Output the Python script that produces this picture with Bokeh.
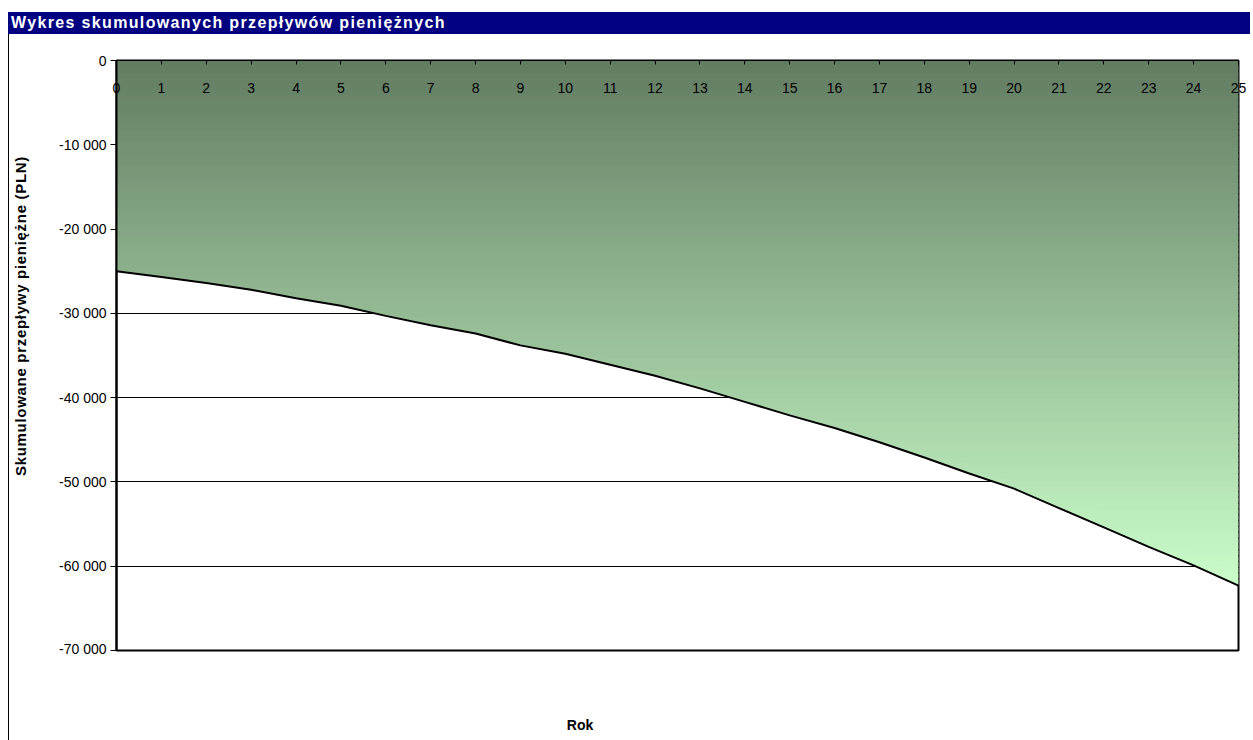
import numpy as np
from bokeh.plotting import figure
from bokeh.models import Range1d, FixedTicker, Div
from bokeh.layouts import column, row
from bokeh.embed import file_html
from bokeh.resources import INLINE

# ---- data ----
years = list(range(26))
cumulative = [-25000, -25700, -26400, -27200, -28200, -29100, -30300, -31400,
              -32400, -33800, -34800, -36100, -37400, -38900, -40500, -42100,
              -43600, -45300, -47100, -49000, -50800, -53100, -55400, -57700,
              -59900, -62300]
y_ticks = [0, -10000, -20000, -30000, -40000, -50000, -60000, -70000]
y_tick_labels = ["0", "-10 000", "-20 000", "-30 000", "-40 000", "-50 000",
                 "-60 000", "-70 000"]
title_text = "Wykres skumulowanych przepływów pieniężnych"
x_label = "Rok"
y_label = "Skumulowane przepływy pieniężne (PLN)"

FONT = "Liberation Sans"
CSS_FONT = "'Liberation Sans', Arial, sans-serif"

title_div = Div(
    text=('<div style="background:#000080;color:#ffffff;font-family:' + CSS_FONT + ';'
          'font-weight:bold;font-size:16px;letter-spacing:1.35px;line-height:22px;height:22px;'
          'padding-left:3px;white-space:nowrap;overflow:hidden;width:1242px;">'
          + title_text + '</div>'),
    width=1245, height=22, margin=(12, 0, 0, 8),
)

ylab_div = Div(
    text=('<div style="position:relative;width:30px;height:706px;border-left:1px solid #000;'
          'box-sizing:border-box;">'
          '<div style="position:absolute;left:12px;top:282px;transform:translate(-50%,-50%) rotate(-90deg);'
          'white-space:nowrap;font-family:' + CSS_FONT + ';font-weight:bold;font-size:15px;'
          'letter-spacing:0.7px;color:#000;">'
          + y_label + '</div></div>'),
    width=30, height=706, margin=(0, 0, 0, 0),
)

rok_div = Div(
    text=('<div style="position:relative;width:1215px;height:84px;">'
          '<div style="position:absolute;left:542px;top:69px;transform:translate(-50%,-50%);'
          'white-space:nowrap;font-family:' + CSS_FONT + ';font-weight:bold;font-size:14px;color:#000;">'
          + x_label + '</div></div>'),
    width=1215, height=84, margin=(0, 0, 0, 0),
)

p = figure(width=1215, height=622,
           x_range=Range1d(0, 25), y_range=Range1d(-70000, 0),
           x_axis_location="above",
           output_backend="svg", toolbar_location=None,
           min_border_left=78, min_border_right=15,
           min_border_top=26, min_border_bottom=6,
           background_fill_color="white", border_fill_color="white",
           margin=(0, 0, 0, 0))

# gradient filled area between 0 and the curve (stacked colour bands)
cum = np.array(cumulative, dtype=float)
ymin = cum.min()
n_bands = 90
edges = np.linspace(0, ymin, n_bands + 1)
c_top = np.array([98, 124, 98])
c_bot = np.array([202, 253, 202])
ov = 500.0
for k in range(n_bands):
    top = edges[k]
    bot = edges[k + 1]
    t = (k + 0.5) / n_bands
    c = (c_top + (c_bot - c_top) * t).round().astype(int)
    col = "#%02x%02x%02x" % tuple(c)
    lower = np.maximum(cum, bot - ov)
    upper = np.maximum(cum, top)
    p.varea(x=years, y1=lower, y2=upper, fill_color=col, fill_alpha=1.0)

p.line(years, cumulative, line_color="black", line_width=2)

# x axis along the zero line, labels pushed inside the frame
p.xaxis.ticker = FixedTicker(ticks=years)
p.xaxis.major_label_text_font = FONT
p.xaxis.major_label_text_font_size = "14px"
p.xaxis.major_label_text_color = "black"
p.xaxis.major_label_standoff = -32
p.xaxis.major_tick_in = 4
p.xaxis.major_tick_out = 0
p.xaxis.minor_tick_line_color = None
p.xaxis.axis_line_color = "black"
p.xaxis.major_tick_line_color = "black"

p.yaxis.ticker = FixedTicker(ticks=y_ticks)
p.yaxis.major_label_overrides = {t: l for t, l in zip(y_ticks, y_tick_labels)}
p.yaxis.major_label_text_font = FONT
p.yaxis.major_label_text_font_size = "14px"
p.yaxis.major_label_text_color = "black"
p.yaxis.major_tick_out = 6
p.yaxis.major_tick_in = 0
p.yaxis.minor_tick_line_color = None
p.yaxis.axis_line_width = 2
p.yaxis.axis_line_color = "black"
p.yaxis.major_tick_line_color = "black"
p.yaxis.major_label_standoff = 4

p.xgrid.visible = False
p.ygrid.ticker = FixedTicker(ticks=y_ticks)
p.ygrid.grid_line_color = "black"
p.ygrid.grid_line_width = 1

p.outline_line_color = "black"
p.outline_line_width = 2

body = row(ylab_div, column(p, rok_div, spacing=0), spacing=0, margin=(0, 0, 0, 8))
layout = column(title_div, body, spacing=0)
open("out.html", "w").write(file_html(layout, INLINE))
